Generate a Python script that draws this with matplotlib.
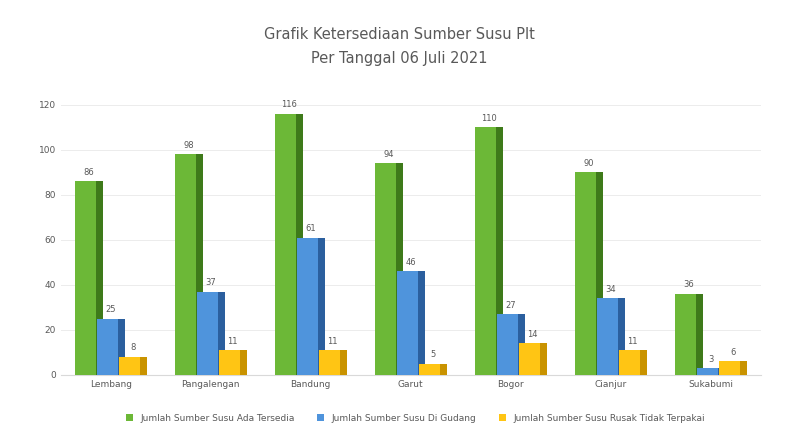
import matplotlib.pyplot as plt
import numpy as np

# =========================================================
# DATA
# =========================================================

categories = ["Lembang", "Pangalengan", "Bandung", "Garut", "Bogor", "Cianjur", "Sukabumi"]

sumber_ada = [86, 98, 116, 94, 110, 90, 36]
sumber_gudang = [25, 37, 61, 46, 27, 34, 3]
sumber_rusak = [8, 11, 11, 5, 14, 11, 6]

series_names = [
    "Jumlah Sumber Susu Ada Tersedia",
    "Jumlah Sumber Susu Di Gudang",
    "Jumlah Sumber Susu Rusak Tidak Terpakai",
]

title_lines = ["Grafik Ketersediaan Sumber Susu Plt", "Per Tanggal 06 Juli 2021"]

# =========================================================
# CHART
# =========================================================

fig = plt.figure(figsize=(7.99, 4.32), dpi=100)
ax = fig.add_axes([0.076, 0.132, 0.876, 0.625])

x = np.arange(len(categories))
width = 0.28
offsets = [-0.22, 0.0, 0.22]
faces = ["#6cb837", "#4f94dc", "#ffc514"]
sides = ["#3e7a1a", "#2b5f9e", "#c99300"]

all_series = [sumber_ada, sumber_gudang, sumber_rusak]

for values, off, face, side, name in zip(all_series, offsets, faces, sides, series_names):
    ax.bar(x + off, values, width, color=face, label=name, zorder=3)
    # darker right face for the 3D look
    ax.bar(x + off + width * 0.375, values, width * 0.25, color=side, zorder=3)
    for xi, v in zip(x + off, values):
        ax.text(xi, v + 2, str(v), ha="center", va="bottom", fontsize=6, color="#595959", zorder=4)

ax.set_xlim(-0.5, len(categories) - 0.5)
ax.set_ylim(0, 120)
ax.set_yticks(range(0, 121, 20))
ax.set_xticks(x)
ax.set_xticklabels(categories)
ax.tick_params(axis="both", labelsize=6.5, colors="#595959", length=0)

ax.grid(axis="y", color="#ececec", linewidth=0.7, zorder=0)
for spine in ["top", "right", "left"]:
    ax.spines[spine].set_visible(False)
ax.spines["bottom"].set_color("#d9d9d9")

fig.text(0.5, 0.92, title_lines[0], ha="center", va="center", fontsize=10.5, color="#595959")
fig.text(0.5, 0.865, title_lines[1], ha="center", va="center", fontsize=10.5, color="#595959")

handles, labels = ax.get_legend_handles_labels()
fig.legend(
    handles,
    labels,
    loc="center",
    bbox_to_anchor=(0.52, 0.032),
    ncol=3,
    fontsize=6.5,
    frameon=False,
    handlelength=0.8,
    handleheight=0.8,
    columnspacing=2.5,
    labelcolor="#595959",
)

fig.savefig("out.png", dpi=100)
